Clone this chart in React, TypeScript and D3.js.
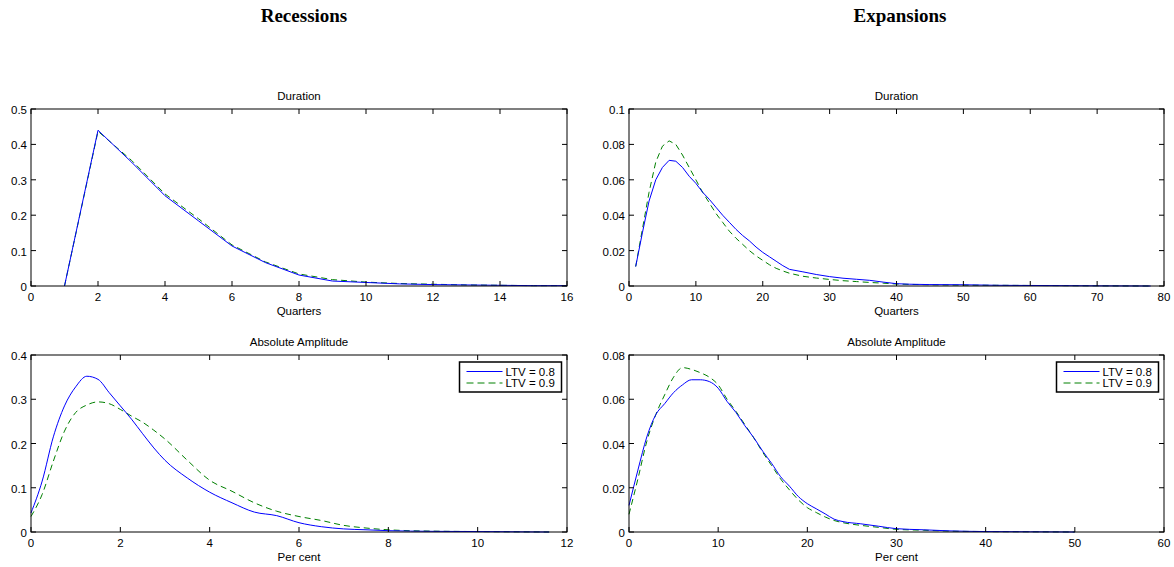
import React from "react";
import * as d3 from "d3";

// Recessions: duration (quarters)
const recDurX = [1, 2, 3, 4, 5, 6, 7, 8, 9, 10, 11, 12, 13, 14, 15, 16];
const recDur08 = [0, 0.44, 0.35, 0.255, 0.184, 0.113, 0.066, 0.031, 0.014, 0.01, 0.006, 0.004, 0.003, 0.002, 0.001, 0.001];
const recDur09 = [0, 0.437, 0.355, 0.26, 0.19, 0.116, 0.068, 0.034, 0.018, 0.011, 0.007, 0.005, 0.003, 0.002, 0.001, 0.001];

// Expansions: duration (quarters)
const expDurX = [1, 2, 3, 4, 5, 6, 7, 8, 9, 10, 11, 12, 13, 14, 15, 16, 17, 18, 19, 20, 21, 22, 23, 24, 26, 28, 30, 32, 34, 36, 38, 40, 42, 45, 50, 55, 60, 65, 70, 78];
const expDur08 = [0.011, 0.03, 0.048, 0.06, 0.067, 0.071, 0.0705, 0.067, 0.062, 0.058, 0.053, 0.049, 0.0445, 0.04, 0.036, 0.032, 0.0285, 0.0255, 0.022, 0.019, 0.0165, 0.014, 0.0115, 0.0094, 0.008, 0.0065, 0.0053, 0.0044, 0.0038, 0.0032, 0.0022, 0.0013, 0.001, 0.0008, 0.0007, 0.0004, 0.0003, 0.0002, 0.0001, 0];
const expDur09 = [0.011, 0.032, 0.053, 0.07, 0.079, 0.082, 0.08, 0.074, 0.067, 0.06, 0.053, 0.047, 0.041, 0.036, 0.031, 0.027, 0.0235, 0.02, 0.017, 0.0145, 0.012, 0.01, 0.0085, 0.0072, 0.0055, 0.0045, 0.0037, 0.003, 0.0025, 0.002, 0.0016, 0.0011, 0.0009, 0.0007, 0.0005, 0.0004, 0.0003, 0.0002, 0.0001, 0];

// Recessions: absolute amplitude (per cent)
const recAmpX = [0, 0.25, 0.5, 0.75, 1, 1.25, 1.5, 1.75, 2, 2.25, 2.5, 2.75, 3, 3.5, 4, 4.5, 5, 5.5, 6, 6.5, 7, 7.5, 8, 9, 10, 11.6];
const recAmp08 = [0.043, 0.115, 0.215, 0.285, 0.328, 0.352, 0.345, 0.315, 0.285, 0.255, 0.222, 0.19, 0.162, 0.122, 0.09, 0.066, 0.045, 0.037, 0.021, 0.012, 0.007, 0.005, 0.003, 0.0015, 0.001, 0];
const recAmp09 = [0.035, 0.085, 0.16, 0.228, 0.27, 0.287, 0.294, 0.29, 0.277, 0.262, 0.248, 0.23, 0.21, 0.162, 0.117, 0.092, 0.066, 0.047, 0.035, 0.026, 0.015, 0.009, 0.005, 0.002, 0.001, 0];

// Expansions: absolute amplitude (per cent)
const expAmpX = [0, 1, 2, 3, 4, 5, 6, 7, 8, 9, 10, 11, 12, 13, 14, 15, 16, 17, 18, 19, 20, 21, 22, 23, 24, 26, 28, 30, 33, 36, 40, 45, 50];
const expAmp08 = [0.012, 0.028, 0.043, 0.053, 0.058, 0.063, 0.0665, 0.0688, 0.0688, 0.068, 0.065, 0.059, 0.054, 0.048, 0.0426, 0.0365, 0.031, 0.025, 0.0207, 0.016, 0.0128, 0.0105, 0.0082, 0.0058, 0.0047, 0.0037, 0.0026, 0.0015, 0.001, 0.0005, 0.0002, 0.0001, 0];
const expAmp09 = [0.008, 0.024, 0.041, 0.053, 0.062, 0.07, 0.0743, 0.0735, 0.072, 0.07, 0.0665, 0.06, 0.0545, 0.0485, 0.0425, 0.036, 0.03, 0.024, 0.019, 0.0145, 0.011, 0.0088, 0.0068, 0.0052, 0.0042, 0.003, 0.0021, 0.0012, 0.0008, 0.0004, 0.0002, 0.0001, 0];

const seriesNames = ["LTV = 0.8", "LTV = 0.9"];
const columnTitles = ["Recessions", "Expansions"];

const BLUE = "#0000ff";
const GREEN = "#008000";
const SANS = "'Liberation Sans', Arial, Helvetica, sans-serif";
const SERIF = "'Liberation Serif', 'DejaVu Serif', serif";
const FS = 11.5;

type PanelDef = {
  left: number; right: number; top: number; bottom: number;
  title: string; xLabel: string;
  xMax: number; xStep: number; yMax: number; yStep: number;
  x: number[]; a: number[]; b: number[];
  smooth: boolean; legend: boolean;
};

const fmt = (v: number) => String(+v.toFixed(4));

function Panel({ p }: { p: PanelDef }) {
  const x = d3.scaleLinear().domain([0, p.xMax]).range([p.left, p.right]);
  const y = d3.scaleLinear().domain([0, p.yMax]).range([p.bottom, p.top]);
  const xTicks = d3.range(0, p.xMax + p.xStep / 2, p.xStep);
  const yTicks = d3.range(0, p.yMax + p.yStep / 2, p.yStep);
  const line = d3.line<number>()
    .x((_, i) => x(p.x[i]))
    .y((d) => y(d))
    .curve(p.smooth ? d3.curveMonotoneX : d3.curveLinear);
  const tl = 5;
  const midX = (p.left + p.right) / 2;
  const lgW = 102, lgH = 30;
  const lgX = p.right - 5.5 - lgW, lgY = p.top + 7;
  return (
    <g>
      <text x={midX} y={p.top - 9} textAnchor="middle" fontSize={FS} fontFamily={SANS}>{p.title}</text>
      <path d={line(p.b) || ""} fill="none" stroke={GREEN} strokeWidth={1} strokeDasharray="6,4" />
      <path d={line(p.a) || ""} fill="none" stroke={BLUE} strokeWidth={1} />
      <rect x={p.left} y={p.top} width={p.right - p.left} height={p.bottom - p.top} fill="none" stroke="#000" strokeWidth={1} />
      {xTicks.map((t) => (
        <g key={"x" + t}>
          <line x1={x(t)} x2={x(t)} y1={p.bottom} y2={p.bottom - tl} stroke="#000" />
          <line x1={x(t)} x2={x(t)} y1={p.top} y2={p.top + tl} stroke="#000" />
          <text x={x(t)} y={p.bottom + 15} textAnchor="middle" fontSize={FS} fontFamily={SANS}>{fmt(t)}</text>
        </g>
      ))}
      {yTicks.map((t) => (
        <g key={"y" + t}>
          <line x1={p.left} x2={p.left + tl} y1={y(t)} y2={y(t)} stroke="#000" />
          <line x1={p.right} x2={p.right - tl} y1={y(t)} y2={y(t)} stroke="#000" />
          <text x={p.left - 4} y={y(t) + 5} textAnchor="end" fontSize={FS} fontFamily={SANS}>{fmt(t)}</text>
        </g>
      ))}
      <text x={midX} y={p.bottom + 29} textAnchor="middle" fontSize={FS} fontFamily={SANS}>{p.xLabel}</text>
      {p.legend && (
        <g>
          <rect x={lgX} y={lgY} width={lgW} height={lgH} fill="#fff" stroke="#000" strokeWidth={1.5} />
          <line x1={lgX + 7} x2={lgX + 43} y1={lgY + 9.5} y2={lgY + 9.5} stroke={BLUE} />
          <line x1={lgX + 7} x2={lgX + 43} y1={lgY + 21} y2={lgY + 21} stroke={GREEN} strokeDasharray="7,4" />
          <text x={lgX + 46} y={lgY + 13.5} fontSize={FS} fontFamily={SANS}>{seriesNames[0]}</text>
          <text x={lgX + 46} y={lgY + 25} fontSize={FS} fontFamily={SANS}>{seriesNames[1]}</text>
        </g>
      )}
    </g>
  );
}

export default function App() {
  const L = { left: 31, right: 567 };
  const R = { left: 629, right: 1164 };
  const T = { top: 109, bottom: 286 };
  const B = { top: 355, bottom: 532 };
  const panels: PanelDef[] = [
    { ...L, ...T, title: "Duration", xLabel: "Quarters", xMax: 16, xStep: 2, yMax: 0.5, yStep: 0.1, x: recDurX, a: recDur08, b: recDur09, smooth: false, legend: false },
    { ...R, ...T, title: "Duration", xLabel: "Quarters", xMax: 80, xStep: 10, yMax: 0.1, yStep: 0.02, x: expDurX, a: expDur08, b: expDur09, smooth: false, legend: false },
    { ...L, ...B, title: "Absolute Amplitude", xLabel: "Per cent", xMax: 12, xStep: 2, yMax: 0.4, yStep: 0.1, x: recAmpX, a: recAmp08, b: recAmp09, smooth: true, legend: true },
    { ...R, ...B, title: "Absolute Amplitude", xLabel: "Per cent", xMax: 60, xStep: 10, yMax: 0.08, yStep: 0.02, x: expAmpX, a: expAmp08, b: expAmp09, smooth: true, legend: true },
  ];
  return (
    <div style={{ position: "absolute", left: 0, top: 0 }}>
      <svg width={1174} height={567} style={{ display: "block", background: "#fff" }}>
        <text x={304} y={22} textAnchor="middle" fontSize={19} fontWeight="bold" fontFamily={SERIF}>{columnTitles[0]}</text>
        <text x={900} y={22} textAnchor="middle" fontSize={19} fontWeight="bold" fontFamily={SERIF}>{columnTitles[1]}</text>
        {panels.map((p, i) => <Panel key={i} p={p} />)}
      </svg>
    </div>
  );
}
